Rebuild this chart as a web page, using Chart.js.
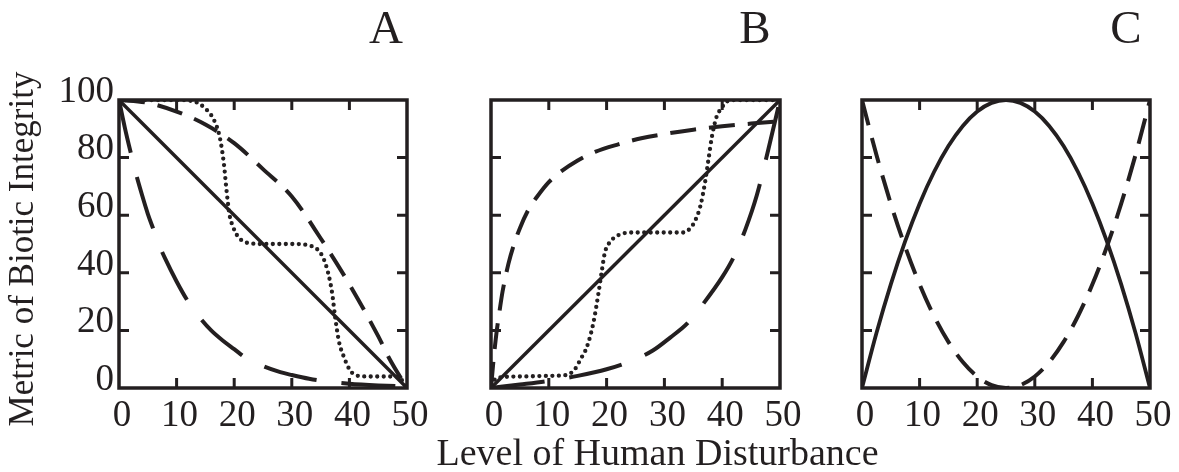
<!DOCTYPE html>
<html>
<head>
<meta charset="utf-8">
<script src="https://cdn.jsdelivr.net/npm/chart.js@4/dist/chart.umd.min.js"></script>
<style>
  html, body { margin: 0; padding: 0; background: #fff; }
  #fig { position: relative; width: 1179px; height: 472px; overflow: hidden; background: #fff; }
  #fig canvas { position: absolute; top: 0; }
</style>
</head>
<body>
<div id="fig">
  <canvas id="panelA"></canvas>
  <canvas id="panelB"></canvas>
  <canvas id="panelC"></canvas>
</div>
<script>
// ---- axis ticks and labels ----
const xTicks = [0, 10, 20, 30, 40, 50];
const yTicks = [0, 20, 40, 60, 80, 100];
const panelTitles = ['A', 'B', 'C'];
const xAxisTitle = 'Level of Human Disturbance';
const yAxisTitle = 'Metric of Biotic Integrity';

// ---- panel A: responses that decline with disturbance ----
const aLinearX = [0, 50];
const aLinearY = [100, 0];
const aStepX = [0, 5, 10, 13, 15, 16.5, 17.5, 18.2, 18.7, 19.2, 19.8, 20.5, 21.5, 23, 25, 30, 33, 34.5, 35.5, 36.3, 37, 37.5, 38.2, 39, 40, 41, 43, 45, 48, 49, 50];
const aStepY = [100, 100, 100, 99.5, 97, 93, 87, 78, 68, 60, 56, 53, 51, 50.2, 50, 50, 49.5, 48, 45, 40, 33, 25, 16, 11, 6.5, 4.5, 4, 4, 4, 3, 0];
const aConcaveX = [0, 5, 10, 15, 20, 25, 30, 35, 40, 45, 47, 50];
const aConcaveY = [100, 99, 96, 91.5, 85, 76, 66.5, 52, 36, 18, 10, 0];
const aConvexX = [0, 1, 2, 3, 4, 5, 6, 7, 8, 10, 12, 14, 16, 18, 20, 22, 25, 28, 30, 33, 36, 40, 45, 50];
const aConvexY = [100, 90.5, 82, 74, 67, 60.5, 55, 49.5, 45, 37, 30, 24.5, 20, 16.5, 13.5, 10.5, 7.6, 5.5, 4.5, 3.2, 2.3, 1.5, 0.9, 0.5];

// ---- panel B: responses that rise with disturbance ----
const bLinearX = [0, 50];
const bLinearY = [0, 100];
const bStepX = [0, 1, 5, 10, 13, 14.5, 15.5, 16.6, 17.7, 18.6, 19.2, 19.7, 20.5, 21.2, 22.9, 25, 30, 33.3, 34.5, 35.3, 36.2, 37, 37.6, 38.2, 39, 40, 40.5, 42, 50];
const bStepY = [1, 3.5, 4, 4.2, 4.5, 6.5, 10, 14.3, 22.5, 33, 41, 47, 50.5, 52, 53.7, 54, 54, 54, 55.5, 58, 63, 71, 79, 87, 94, 97.5, 99, 100, 100];
const bConcaveX = [0, 0.5, 1, 1.5, 2, 3, 4, 5, 6.5, 8, 10, 12, 15, 18, 22, 26, 30, 35, 40, 45, 50];
const bConcaveY = [0, 11, 20, 27, 33.5, 43, 50, 55.5, 62, 66.5, 71.5, 75, 79, 82, 84.6, 86.7, 88.2, 89.7, 90.9, 91.8, 92.6];
const bConvexX = [0, 5, 10, 15, 20, 25, 28, 31, 34, 37, 40, 42, 44, 46, 48, 50];
const bConvexY = [0, 1.2, 2.5, 4.2, 6.5, 10, 13, 17.5, 22.5, 30, 38.5, 45.5, 55, 67, 83, 100];

// ---- panel C: humped and U-shaped responses ----
const cX = [0, 2.5, 5, 7.5, 10, 12.5, 15, 17.5, 20, 22.5, 25, 27.5, 30, 32.5, 35, 37.5, 40, 42.5, 45, 47.5, 50];
const cHumpY = [0, 19, 36, 51, 64, 75, 84, 91, 96, 99, 100, 99, 96, 91, 84, 75, 64, 51, 36, 19, 0];
const cTroughY = [100, 81, 64, 49, 36, 25, 16, 9, 4, 1, 0, 1, 4, 9, 16, 25, 36, 49, 64, 81, 100];

// ---- drawing styles ----
const ink = '#231f20';
const serif = '"Liberation Serif", "Times New Roman", Times, serif';
const CANVAS_H = 472;

const styles = {
  solid:     { borderDash: [],       borderWidth: 3.4, borderCapStyle: 'butt' },
  dotted:    { borderDash: [0, 6.5], borderWidth: 4.3, borderCapStyle: 'round' },
  shortDash: { borderDash: [26, 13], borderWidth: 4,   borderCapStyle: 'butt' },
  longDash:  { borderDash: [54, 25], borderWidth: 4,   borderCapStyle: 'butt' }
};

function points(xs, ys) {
  return xs.map((v, i) => ({ x: v, y: ys[i] }));
}

function series(xs, ys, style, width) {
  const s = styles[style];
  return {
    data: points(xs, ys),
    borderColor: ink,
    backgroundColor: ink,
    borderWidth: width || s.borderWidth,
    borderDash: s.borderDash,
    borderCapStyle: s.borderCapStyle,
    borderJoinStyle: 'round',
    pointRadius: 0,
    pointHoverRadius: 0,
    fill: false,
    cubicInterpolationMode: 'monotone'
  };
}

// Box frame, inward ticks on all four sides, panel letter and axis captions.
const panelFrame = {
  id: 'panelFrame',
  afterDatasetsDraw(chart, args, opts) {
    const { ctx, chartArea: a } = chart;
    const xs = chart.scales.x, ys = chart.scales.y;
    ctx.save();
    ctx.strokeStyle = ink;
    ctx.lineCap = 'butt';
    ctx.lineWidth = opts.tickWidth;
    ctx.beginPath();
    xs.ticks.forEach(t => {
      if (t.value <= xs.min || t.value >= xs.max) return;
      const px = xs.getPixelForValue(t.value);
      ctx.moveTo(px, a.bottom); ctx.lineTo(px, a.bottom - opts.tickLength);
      ctx.moveTo(px, a.top);    ctx.lineTo(px, a.top + opts.tickLength);
    });
    ys.ticks.forEach(t => {
      if (t.value <= ys.min || t.value >= ys.max) return;
      const py = ys.getPixelForValue(t.value);
      ctx.moveTo(a.left, py);  ctx.lineTo(a.left + opts.tickLength, py);
      ctx.moveTo(a.right, py); ctx.lineTo(a.right - opts.tickLength, py);
    });
    ctx.stroke();
    ctx.lineWidth = opts.frameWidth;
    ctx.lineJoin = 'miter';
    ctx.strokeRect(a.left, a.top, a.right - a.left, a.bottom - a.top);
    ctx.restore();
  },
  afterDraw(chart, args, opts) {
    const { ctx, chartArea: a } = chart;
    ctx.save();
    ctx.fillStyle = ink;
    ctx.textAlign = 'center';
    ctx.textBaseline = 'alphabetic';
    ctx.font = opts.letterSize + 'px ' + serif;
    ctx.fillText(opts.letter, a.right - opts.letterInset, opts.letterBaseline);
    if (opts.xCaption) {
      ctx.font = opts.xCaptionSize + 'px ' + serif;
      ctx.fillText(opts.xCaption, opts.xCaptionX, opts.xCaptionBaseline);
    }
    if (opts.yCaption) {
      ctx.font = opts.yCaptionSize + 'px ' + serif;
      ctx.translate(opts.yCaptionBaseline, (a.top + a.bottom) / 2 + opts.yCaptionShift);
      ctx.rotate(-Math.PI / 2);
      ctx.fillText(opts.yCaption, 0, 0);
    }
    ctx.restore();
  }
};

function makePanel(id, cfg) {
  const canvas = document.getElementById(id);
  canvas.width = cfg.canvasWidth;
  canvas.height = CANVAS_H;
  canvas.style.left = cfg.canvasLeft + 'px';
  canvas.style.width = cfg.canvasWidth + 'px';
  canvas.style.height = CANVAS_H + 'px';

  return new Chart(canvas, {
    type: 'line',
    data: { datasets: cfg.datasets },
    plugins: [panelFrame],
    options: {
      responsive: false,
      animation: false,
      devicePixelRatio: 1,
      events: [],
      layout: { padding: { left: 0, top: cfg.areaTop, right: cfg.canvasWidth - cfg.areaRight, bottom: 0 } },
      plugins: {
        legend: { display: false },
        tooltip: { enabled: false },
        title: { display: false },
        panelFrame: {
          tickLength: 10,
          tickWidth: 3,
          frameWidth: 3.5,
          letter: cfg.letter,
          letterInset: cfg.letterInset,
          letterSize: 47,
          letterBaseline: 43,
          xCaption: cfg.xCaption || null,
          xCaptionX: cfg.xCaptionX,
          xCaptionSize: 38,
          xCaptionBaseline: 465,
          yCaption: cfg.yCaption || null,
          yCaptionSize: 35,
          yCaptionBaseline: 33,
          yCaptionShift: 5
        }
      },
      scales: {
        x: {
          type: 'linear',
          min: 0,
          max: 50,
          afterBuildTicks: s => { s.ticks = xTicks.map(v => ({ value: v })); },
          afterFit: s => { s.height = CANVAS_H - cfg.areaBottom; },
          grid: { display: false, drawTicks: false },
          border: { display: false },
          ticks: {
            autoSkip: false,
            maxRotation: 0,
            padding: 6,
            labelOffset: 3,
            color: ink,
            font: { family: serif, size: 37 }
          }
        },
        y: {
          type: 'linear',
          min: 0,
          max: 100,
          afterBuildTicks: s => { s.ticks = yTicks.map(v => ({ value: v })); },
          afterFit: s => { s.width = cfg.areaLeft; },
          grid: { display: false, drawTicks: false },
          border: { display: false },
          ticks: {
            display: cfg.showY,
            autoSkip: false,
            padding: 5,
            labelOffset: -8,
            color: ink,
            font: { family: serif, size: 37 }
          }
        }
      }
    }
  });
}

makePanel('panelA', {
  canvasLeft: 0, canvasWidth: 445,
  areaLeft: 119, areaRight: 407, areaTop: 100, areaBottom: 388,
  letter: panelTitles[0], letterInset: 21,
  showY: true,
  yCaption: yAxisTitle,
  datasets: [
    series(aConvexX, aConvexY, 'longDash'),
    series(aConcaveX, aConcaveY, 'shortDash'),
    series(aStepX, aStepY, 'dotted'),
    series(aLinearX, aLinearY, 'solid')
  ]
});

makePanel('panelB', {
  canvasLeft: 402, canvasWidth: 500,
  areaLeft: 89, areaRight: 378, areaTop: 100, areaBottom: 388,
  letter: panelTitles[1], letterInset: 25,
  showY: false,
  xCaption: xAxisTitle, xCaptionX: 255.5,
  datasets: [
    series(bConvexX, bConvexY, 'longDash'),
    series(bConcaveX, bConcaveY, 'shortDash'),
    series(bStepX, bStepY, 'dotted'),
    series(bLinearX, bLinearY, 'solid')
  ]
});

makePanel('panelC', {
  canvasLeft: 815, canvasWidth: 364,
  areaLeft: 47, areaRight: 335, areaTop: 100, areaBottom: 388,
  letter: panelTitles[2], letterInset: 24,
  showY: false,
  datasets: [
    series(cX, cTroughY, 'shortDash'),
    series(cX, cHumpY, 'solid', 3.8)
  ]
});
</script>
</body>
</html>
